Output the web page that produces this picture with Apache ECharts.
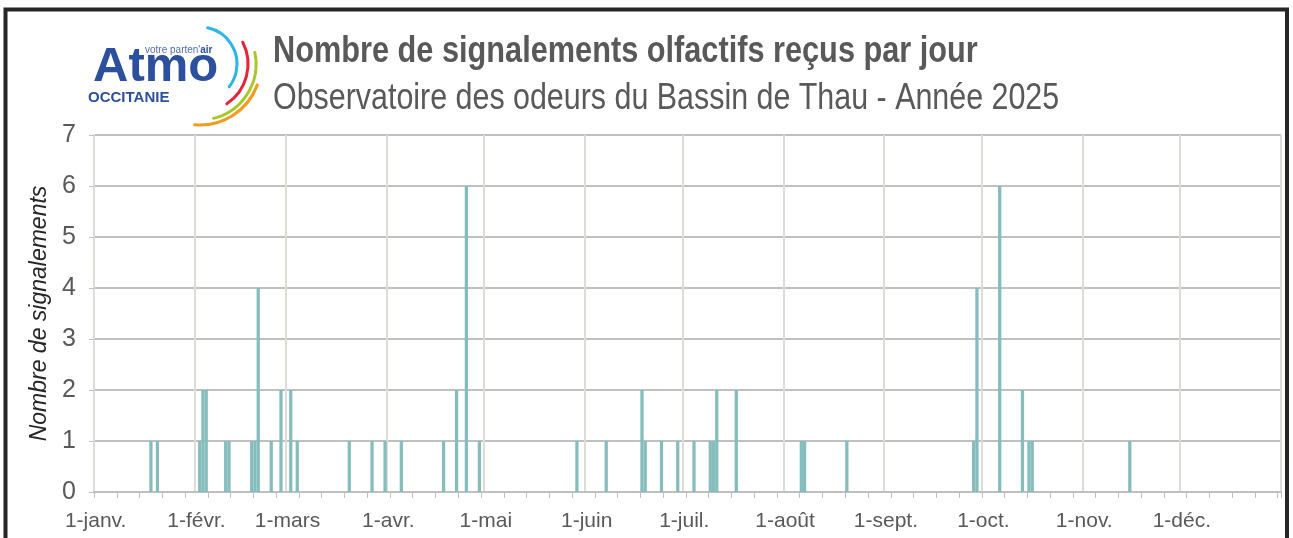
<!DOCTYPE html>
<html><head><meta charset="utf-8">
<script src="https://cdn.jsdelivr.net/npm/echarts@6/dist/echarts.min.js"></script>
<style>html,body{margin:0;padding:0;background:#fff}#c{width:1293px;height:538px}</style>
</head><body><div id="c"></div>
<script>
// ---- data ----
const reportDates = [
  '2025-01-18','2025-01-20',
  '2025-02-02','2025-02-03','2025-02-04','2025-02-10','2025-02-11',
  '2025-02-18','2025-02-19','2025-02-20','2025-02-24','2025-02-27',
  '2025-03-02','2025-03-04','2025-03-20','2025-03-27','2025-03-31',
  '2025-04-05','2025-04-18','2025-04-22','2025-04-25','2025-04-29',
  '2025-05-29',
  '2025-06-07','2025-06-18','2025-06-19','2025-06-24','2025-06-29',
  '2025-07-04','2025-07-09','2025-07-10','2025-07-11','2025-07-17',
  '2025-08-06','2025-08-07','2025-08-20',
  '2025-09-28','2025-09-29',
  '2025-10-06','2025-10-13','2025-10-15','2025-10-16',
  '2025-11-15'
];
const reportCounts = [
  1,1,
  1,2,2,1,1,
  1,1,4,1,2,
  2,1,1,1,1,
  1,1,2,6,1,
  1,
  1,2,1,1,1,
  1,1,1,2,2,
  1,1,1,
  1,4,
  6,2,1,1,
  1
];
const monthLabels = ['1-janv.','1-févr.','1-mars','1-avr.','1-mai','1-juin','1-juil.','1-août','1-sept.','1-oct.','1-nov.','1-déc.'];
const titleText = 'Nombre de signalements olfactifs reçus par jour';
const subtitleText = 'Observatoire des odeurs du Bassin de Thau - Année 2025';
const yAxisTitle = 'Nombre de signalements';

// ---- build one category per day of 2025 ----
const days = [];
for (let t = Date.UTC(2025,0,1); t < Date.UTC(2026,0,1); t += 86400000) {
  days.push(new Date(t).toISOString().slice(0,10));
}
const dailyCounts = days.map(d => {
  const i = reportDates.indexOf(d);
  return i >= 0 ? reportCounts[i] : '-';
});

const FONT = '"Liberation Sans",Arial,sans-serif';
const GREY = '#595959';
const BLUE = '#2c4f9e';
const deg = a => a * Math.PI / 180;
const LC = {x: 200, y: 64};

const chart = echarts.init(document.getElementById('c'), null, {renderer: 'canvas'});
chart.setOption({
  backgroundColor: '#fff',
  animation: false,
  textStyle: {fontFamily: FONT},
  grid: {left: 94, right: 12, top: 135, bottom: 46, containLabel: false},
  xAxis: {
    type: 'category',
    data: days,
    boundaryGap: true,
    axisLine: {show: true, lineStyle: {color: '#bfbfbf', width: 2}},
    axisTick: {show: true, interval: (i) => i % 7 === 0, length: 6, lineStyle: {color: '#bfbfbf', width: 1}},
    splitLine: {show: true, interval: (i, v) => v.slice(8) === '01', lineStyle: {color: '#dcdcd8', width: 2}},
    axisLabel: {
      interval: (i, v) => v.slice(8) === '01',
      formatter: (v) => monthLabels[parseInt(v.slice(5,7), 10) - 1],
      fontFamily: FONT, fontSize: 21, color: GREY, margin: 19
    }
  },
  yAxis: {
    type: 'value', min: 0, max: 7, interval: 1,
    name: yAxisTitle, nameLocation: 'middle', nameGap: 42,
    nameTextStyle: {fontFamily: FONT, fontSize: 23, fontStyle: 'italic', color: '#262626'},
    axisLine: {show: true, lineStyle: {color: '#dcdcd8', width: 2}},
    axisTick: {show: true, length: 5, lineStyle: {color: '#bfbfbf'}},
    splitLine: {show: true, lineStyle: {color: '#c0c0c0', width: 2}},
    axisLabel: {fontFamily: FONT, fontSize: 25, color: GREY, margin: 18}
  },
  series: [{
    type: 'bar',
    data: dailyCounts,
    barCategoryGap: '0%',
    itemStyle: {color: '#85bcbc'},
    z: 3
  }],
  graphic: [
    {type: 'rect', shape: {x: 5.5, y: 9.5, width: 1281.5, height: 600},
     style: {fill: 'none', stroke: '#262626', lineWidth: 4}, z: 100},
    // title & subtitle (narrow face emulated with a horizontal scale)
    {type: 'text', x: 273, y: 33, scaleX: 0.83,
     style: {text: titleText, font: 'bold 37px ' + FONT, fill: GREY, align: 'left', verticalAlign: 'top'}},
    {type: 'text', x: 273, y: 80, scaleX: 0.822,
     style: {text: subtitleText, font: '37px ' + FONT, fill: GREY, align: 'left', verticalAlign: 'top'}},
    // logo
    {type: 'text', x: 93, y: 43,
     style: {text: 'Atmo', font: 'bold 49px ' + FONT, fill: BLUE, align: 'left', verticalAlign: 'top'}},
    {type: 'text', x: 145, y: 45,
     style: {text: "{a|votre parten'}{b|air}", align: 'left', verticalAlign: 'top',
       rich: {a: {fontSize: 10, fill: '#4f6fb5', fontFamily: FONT},
              b: {fontSize: 10, fontWeight: 'bold', fill: BLUE, fontFamily: FONT}}}},
    {type: 'text', x: 88, y: 90,
     style: {text: 'OCCITANIE', font: 'bold 15px ' + FONT, fill: BLUE, align: 'left', verticalAlign: 'top'}},
    {type: 'arc', shape: {cx: LC.x, cy: LC.y, r: 37, startAngle: deg(-78), endAngle: deg(38)},
     style: {stroke: '#29b6e8', lineWidth: 3, fill: 'none', lineCap: 'round'}},
    {type: 'arc', shape: {cx: LC.x, cy: LC.y, r: 48, startAngle: deg(-27), endAngle: deg(56)},
     style: {stroke: '#e3263a', lineWidth: 3, fill: 'none', lineCap: 'round'}},
    {type: 'arc', shape: {cx: LC.x, cy: LC.y, r: 56, startAngle: deg(-12), endAngle: deg(76)},
     style: {stroke: '#a6c82a', lineWidth: 3, fill: 'none', lineCap: 'round'}},
    {type: 'arc', shape: {cx: LC.x, cy: LC.y, r: 61, startAngle: deg(20), endAngle: deg(95)},
     style: {stroke: '#f39a1f', lineWidth: 3, fill: 'none', lineCap: 'round'}}
  ]
});
</script></body></html>
